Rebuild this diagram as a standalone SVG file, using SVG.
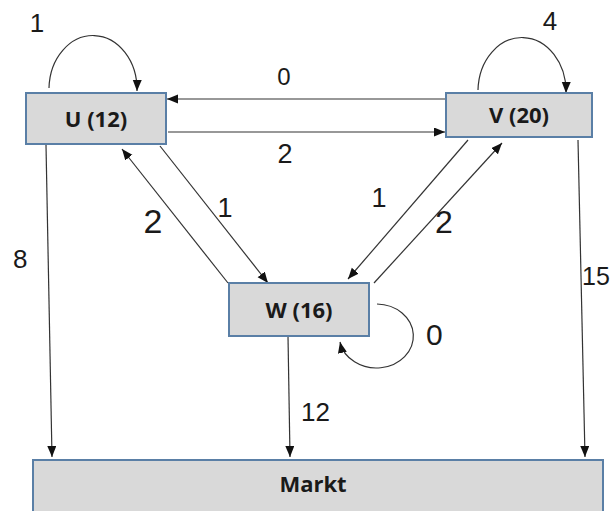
<svg xmlns="http://www.w3.org/2000/svg" width="614" height="511" viewBox="0 0 614 511">
<style>
.box{fill:#d9d9d9;stroke:#5a7fa6;stroke-width:2}
.bt{font-family:"Open Sans","Liberation Sans",sans-serif;font-weight:bold;font-size:22px;fill:#1a1a1a;text-anchor:middle}
.ln{fill:none;stroke:#333;stroke-width:1.2;marker-end:url(#ah)}
.lb{font-family:"Liberation Sans",Arial,sans-serif;fill:#1a1a1a}
</style>
<defs>
<marker id="ah" markerUnits="userSpaceOnUse" markerWidth="12" markerHeight="10" refX="11" refY="4.5" orient="auto">
<path d="M0,0 L11,4.5 L0,9 z" fill="#111"/>
</marker>
</defs>
<rect width="614" height="511" fill="#fff"/>
<g id="connectors">
<path class="ln" d="M168,132 L445,132"/>
<path class="ln" d="M446,99 L167,99"/>
<path class="ln" d="M160,146 L268,283"/>
<path class="ln" d="M228,283 L122,149"/>
<path class="ln" d="M468,140 L348,279"/>
<path class="ln" d="M374,283 L502,143"/>
<path class="ln" d="M46,145 L52,457"/>
<path class="ln" d="M288,336 L290,457"/>
<path class="ln" d="M578,140 L585,457"/>
<path class="ln" d="M49,88 A44,54 0 0 1 137,91"/>
<path class="ln" d="M478,90 A44,54 0 0 1 566,93"/>
<path class="ln" d="M377,304 A37,32 0 1 1 340,342"/>
</g>
<g class="lb">
<text x="37" y="32" font-size="26" text-anchor="middle">1</text>
<text x="550" y="30" font-size="26" text-anchor="middle">4</text>
<text x="284" y="85" font-size="24" text-anchor="middle">0</text>
<text x="285" y="163" font-size="27" text-anchor="middle">2</text>
<text x="225" y="217" font-size="27" text-anchor="middle">1</text>
<text x="153" y="233" font-size="34" text-anchor="middle">2</text>
<text x="379" y="207" font-size="27" text-anchor="middle">1</text>
<text x="444" y="233" font-size="32" text-anchor="middle">2</text>
<text x="13" y="268" font-size="26">8</text>
<text x="582" y="285" font-size="25">15</text>
<text x="301" y="421" font-size="26">12</text>
<text x="426" y="345" font-size="30">0</text>
</g>
<g id="U"><rect class="box" x="26" y="93" width="140" height="51"/><text class="bt" x="96" y="127">U (12)</text></g>
<g id="V"><rect class="box" x="446" y="93" width="146" height="44"/><text class="bt" x="519" y="123">V (20)</text></g>
<g id="W"><rect class="box" x="229" y="283" width="140" height="53"/><text class="bt" x="299" y="318">W (16)</text></g>
<g id="Markt"><rect class="box" x="33" y="460" width="570" height="60"/><text class="bt" x="313" y="492">Markt</text></g>
</svg>
